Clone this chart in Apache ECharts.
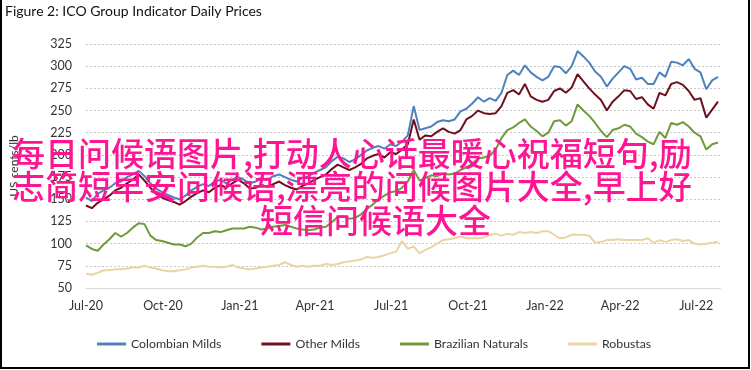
<!DOCTYPE html>
<html>
<head>
<meta charset="utf-8">
<script src="https://cdn.jsdelivr.net/npm/echarts@6/dist/echarts.min.js"></script>
<style>
html,body{margin:0;padding:0;background:#fff;}
#chart{width:751px;height:370px;}
</style>
</head>
<body>
<div id="chart"></div>
<script>
// Weekly sampling grid starting 1 Jul 2020
const startDate = Date.UTC(2020, 6, 1);
const stepDays = 7;
const axisMin = Date.UTC(2020, 6, 1);
const axisMax = Date.UTC(2022, 6, 30);

const titleText = 'Figure 2: ICO Group Indicator Daily Prices';
const yAxisName = 'US cents/lb';
const seriesNames = ['Colombian Milds', 'Other Milds', 'Brazilian Naturals', 'Robustas'];
const xTickLabels = ['Jul-20','Oct-20','Jan-21','Apr-21','Jul-21','Oct-21','Jan-22','Apr-22','Jul-22'];
const overlayLines = [
  '每日问候语图片,打动人心话最暖心祝福短句,励',
  '志简短早安问候语,漂亮的问候图片大全,早上好',
  '短信问候语大全'
];

const colombianMilds = [152,148,156,160,163,168,170,175,178,182,176,168,162,158,155,152,150,154,160,164,167,165,170,172,168,172,175,172,168,170,174,172,176,178,175,172,170,174,176,180,183,186,193,198,196,192,195,200,205,208,210,207,212,210,215,222,255,228,230,232,237,239,238,240,249,252,258,265,260,264,261,270,290,295,290,301,293,288,284,288,300,299,292,300,317,311,304,294,288,277,286,293,300,297,285,287,280,280,293,288,305,304,301,308,297,293,274,284,288];
const otherMilds = [143,140,146,150,154,160,163,168,172,178,171,163,156,152,149,147,144,148,153,157,160,158,163,166,163,168,172,168,162,163,166,164,167,170,166,163,161,165,168,172,175,178,184,189,186,183,186,190,196,199,201,197,203,201,206,212,240,217,222,221,226,230,226,224,228,240,244,250,247,246,247,255,270,273,268,280,266,262,260,262,272,275,270,276,291,283,275,268,262,250,260,266,273,272,263,265,257,252,270,267,280,282,279,272,262,264,242,251,260];
const brazilianNaturals = [98,94,92,99,105,112,108,112,118,123,122,109,104,103,101,99,99,97,100,107,112,112,114,113,115,117,117,117,119,118,116,117,119,120,121,119,117,116,115,116,118,119,124,130,131,128,129,133,139,144,150,154,158,159,163,170,183,171,174,177,176,179,178,179,183,186,190,196,197,199,206,219,228,231,236,240,232,227,221,225,238,239,233,238,257,250,244,236,227,220,228,230,234,232,224,220,215,212,226,219,236,234,237,232,225,221,206,212,214];
const robustas = [66,65,67,70,70,71,71,72,73,73,75,73,72,70,69,69,70,71,73,74,75,74,74,73,74,76,73,72,71,72,73,74,75,76,79,76,74,75,74,75,75,77,76,77,79,80,81,82,85,84,85,87,89,91,103,94,97,89,93,96,100,104,105,106,108,106,106,106,107,110,111,109,111,110,113,112,113,112,114,114,110,106,107,110,110,110,109,101,102,104,104,105,104,104,104,104,106,101,104,102,104,105,103,104,100,99,100,101,102];

const seriesColors = ['#4f81bd', '#6e1020', '#6f9a3c', '#ead4a4'];
const valueLists = [colombianMilds, otherMilds, brazilianNaturals, robustas];

function toPairs(vals) {
  return vals.map((v, i) => [startDate + i * stepDays * 86400000, v]);
}
const monthNames = ['Jan','Feb','Mar','Apr','May','Jun','Jul','Aug','Sep','Oct','Nov','Dec'];
function fmtDate(val) {
  const d = new Date(val);
  if (d.getUTCDate() !== 1) return '';
  const s = monthNames[d.getUTCMonth()] + '-' + String(d.getUTCFullYear()).slice(2);
  return xTickLabels.indexOf(s) >= 0 ? s : '';
}

const FONT = "Lato, 'Open Sans', sans-serif";
const CJK = "500 33px 'Noto Sans CJK SC'";
const chart = echarts.init(document.getElementById('chart'), null, {renderer: 'canvas'});
chart.setOption({
  animation: false,
  useUTC: true,
  backgroundColor: '#ffffff',
  grid: {left: 82.5, right: 30.5, top: 44, bottom: 82, containLabel: false},
  xAxis: {
    type: 'time',
    min: axisMin,
    max: axisMax,
    splitNumber: 8,
    axisLine: {show: true, lineStyle: {color: '#d9d9d9', width: 1}},
    axisTick: {show: false},
    splitLine: {show: false},
    axisLabel: {
      formatter: fmtDate,
      color: '#333333',
      fontFamily: FONT,
      fontSize: 12.5,
      margin: 11,
      hideOverlap: false
    }
  },
  yAxis: {
    type: 'value',
    min: 50,
    max: 325,
    interval: 25,
    name: yAxisName,
    nameLocation: 'middle',
    nameGap: 66,
    nameRotate: 90,
    nameTextStyle: {color: '#333333', fontFamily: FONT, fontSize: 12},
    axisLine: {show: false},
    axisTick: {show: false},
    axisLabel: {color: '#333333', fontFamily: FONT, fontSize: 12.5, margin: 14},
    splitLine: {show: true, lineStyle: {color: '#c8c8c8', type: [2, 2], width: 1}}
  },
  legend: {
    data: seriesNames,
    left: 92,
    top: 333,
    icon: 'rect',
    itemWidth: 29,
    itemHeight: 3,
    itemGap: 40,
    textStyle: {color: '#333333', fontFamily: FONT, fontSize: 12.3}
  },
  series: seriesNames.map((name, k) => ({
    name: name,
    type: 'line',
    data: toPairs(valueLists[k]),
    showSymbol: false,
    symbol: 'none',
    lineStyle: {color: seriesColors[k], width: 2},
    itemStyle: {color: seriesColors[k]},
    z: 10 - k
  })),
  graphic: [
    {type: 'text', left: 5, top: 4, z: 100,
     style: {text: titleText, fill: '#111111', font: "14px " + FONT}},
    {type: 'text', left: 12, top: 137, z: 200,
     style: {text: overlayLines[0], fill: '#ff1493', font: CJK}},
    {type: 'text', left: 12, top: 170, z: 200,
     style: {text: overlayLines[1], fill: '#ff1493', font: CJK}},
    {type: 'text', left: 260, top: 204, z: 200,
     style: {text: overlayLines[2], fill: '#ff1493', font: CJK}},
    {type: 'rect', z: 300, silent: true,
     shape: {x: 1, y: -2, width: 748, height: 370},
     style: {fill: 'none', stroke: '#000000', lineWidth: 2}}
  ]
});
</script>
</body>
</html>
